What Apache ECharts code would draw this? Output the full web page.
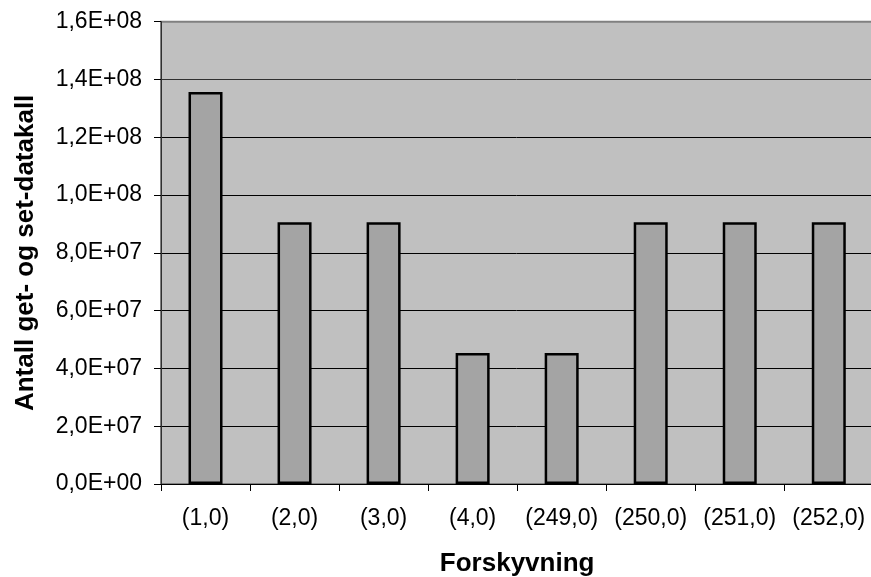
<!DOCTYPE html>
<html>
<head>
<meta charset="utf-8">
<script src="https://cdn.jsdelivr.net/npm/echarts@6/dist/echarts.min.js"></script>
<style>
html,body{margin:0;padding:0;background:#fff;}
#c{width:871px;height:577px;}
</style>
</head>
<body>
<div id="c"></div>
<script>
const categories = ['(1,0)', '(2,0)', '(3,0)', '(4,0)', '(249,0)', '(250,0)', '(251,0)', '(252,0)'];
const values = [135700000, 90600000, 90600000, 45300000, 45300000, 90600000, 90600000, 90600000];
const yTickValues = [0, 20000000, 40000000, 60000000, 80000000, 100000000, 120000000, 140000000, 160000000];
const yTickLabels = ['0,0E+00', '2,0E+07', '4,0E+07', '6,0E+07', '8,0E+07', '1,0E+08', '1,2E+08', '1,4E+08', '1,6E+08'];
const xTitle = 'Forskyvning';
const yTitle = 'Antall get- og set-datakall';

const chart = echarts.init(document.getElementById('c'));
const font = 'Liberation Sans, Arial, sans-serif';
chart.setOption({
  animation: false,
  backgroundColor: '#ffffff',
  grid: {
    left: 161, top: 21.7, right: -2.3, bottom: 93,
    show: true, backgroundColor: '#C0C0C0', borderColor: '#808080', borderWidth: 2,
    containLabel: false, outerBoundsMode: 'none'
  },
  xAxis: {
    type: 'category',
    data: categories,
    name: xTitle,
    nameLocation: 'middle',
    nameGap: 67,
    nameTextStyle: { fontFamily: font, fontSize: 26, fontWeight: 'bold', color: '#000' },
    axisLine: { lineStyle: { color: '#000', width: 1 } },
    axisTick: { show: true, length: 7, lineStyle: { color: '#000' } },
    axisLabel: { fontFamily: font, fontSize: 23, color: '#000', margin: 23, interval: 0 },
    splitLine: { show: false }
  },
  yAxis: {
    type: 'value',
    min: 0, max: 160000000, interval: 20000000,
    name: yTitle,
    nameLocation: 'middle',
    nameGap: 122,
    nameTextStyle: { fontFamily: font, fontSize: 26, fontWeight: 'bold', color: '#000' },
    axisLine: { show: true, lineStyle: { color: '#303030', width: 1 } },
    axisTick: { show: true, length: 7, lineStyle: { color: '#000' } },
    axisLabel: {
      fontFamily: font, fontSize: 23, color: '#000', margin: 19,
      formatter: function (v) {
        const i = yTickValues.indexOf(v);
        return i >= 0 ? yTickLabels[i] : '';
      }
    },
    splitLine: {
      show: true,
      lineStyle: { color: ['#000', '#000', '#000', '#000', '#000', '#000', '#000', '#303030', '#808080'], width: 1 }
    }
  },
  series: [{
    type: 'bar',
    data: values,
    barWidth: 34,
    itemStyle: { color: '#A4A4A4', borderColor: '#000', borderWidth: 2.5 }
  }]
});
</script>
</body>
</html>
